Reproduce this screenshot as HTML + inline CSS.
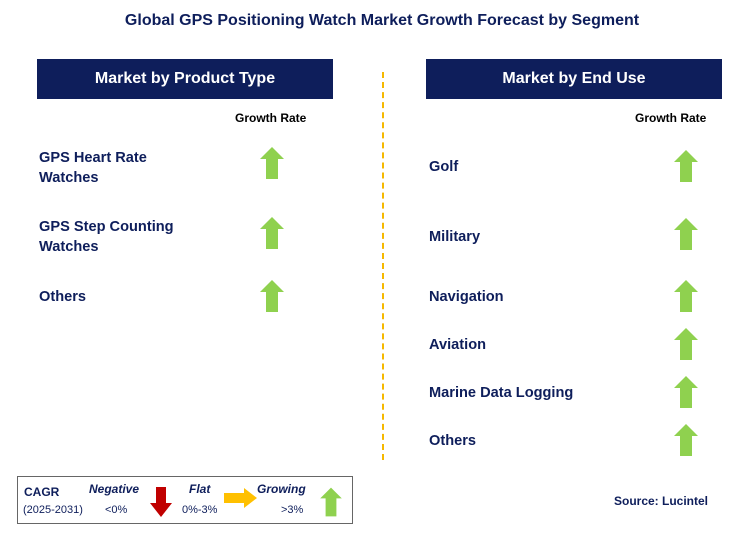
<!DOCTYPE html>
<html><head><meta charset="utf-8"><style>
body{margin:0;width:740px;height:536px;background:#fff;position:relative;font-family:"Liberation Sans",sans-serif;overflow:hidden}
.a{position:absolute}
.t{font-weight:bold;font-size:14.6px;color:#0e1e5b;line-height:20px}
.hd{background:#0e1e5b;color:#fff;font-weight:bold;font-size:16px;text-align:center;line-height:40px;height:40px}
.gr{font-size:12px;font-weight:bold;color:#000}
</style></head><body>
<div class="a" style="left:0;width:764px;top:12px;text-align:center;font-weight:bold;font-size:16px;color:#0e1e5b">Global GPS Positioning Watch Market Growth Forecast by Segment</div>
<div class="a hd" style="left:37px;top:59px;width:296px">Market by Product Type</div>
<div class="a hd" style="left:426px;top:59px;width:296px">Market by End Use</div>
<div class="a gr" style="left:235px;top:111px">Growth Rate</div>
<div class="a gr" style="left:635px;top:111px">Growth Rate</div>
<div class="a" style="left:382px;top:72px;height:388px;border-left:2px dashed #f5b800"></div>
<div class="a t" style="left:39px;top:148px">GPS Heart Rate<br>Watches</div>
<div class="a t" style="left:39px;top:217px">GPS Step Counting<br>Watches</div>
<div class="a t" style="left:39px;top:287px">Others</div>
<div class="a t" style="left:429px;top:157px">Golf</div>
<div class="a t" style="left:429px;top:227px">Military</div>
<div class="a t" style="left:429px;top:287px">Navigation</div>
<div class="a t" style="left:429px;top:335px">Aviation</div>
<div class="a t" style="left:429px;top:383px">Marine Data Logging</div>
<div class="a t" style="left:429px;top:431px">Others</div>
<svg class="a" style="left:0;top:0" width="740" height="536">
<defs><polygon id="up" points="0,-16 12,-4 6,-4 6,16 -6,16 -6,-4 -12,-4" fill="#8fd14f"/></defs>
<use href="#up" x="272" y="163"/>
<use href="#up" x="272" y="233"/>
<use href="#up" x="272" y="296"/>
<use href="#up" x="686" y="166"/>
<use href="#up" x="686" y="234"/>
<use href="#up" x="686" y="296"/>
<use href="#up" x="686" y="344"/>
<use href="#up" x="686" y="392"/>
<use href="#up" x="686" y="440"/>
<rect x="17.5" y="476.5" width="335" height="47" fill="none" stroke="#666" stroke-width="1"/>
<polygon points="156,487 166,487 166,503 172,503 161,517 150,503 156,503" fill="#c00000"/>
<polygon points="224,493 244,493 244,488 257,498 244,508 244,503 224,503" fill="#ffc000"/>
<use href="#up" x="331" y="502" transform="translate(331 502) scale(0.9) translate(-331 -502)"/>
</svg>
<div class="a" style="left:24px;top:485px;font-size:12px;font-weight:bold;color:#0e1e5b">CAGR</div>
<div class="a" style="left:23px;top:504px;font-size:11px;color:#0e1e5b">(2025-2031)</div>
<div class="a" style="left:89px;top:482px;font-size:12px;font-weight:bold;font-style:italic;color:#0e1e5b">Negative</div>
<div class="a" style="left:105px;top:504px;font-size:11px;color:#0e1e5b">&lt;0%</div>
<div class="a" style="left:189px;top:482px;font-size:12px;font-weight:bold;font-style:italic;color:#0e1e5b">Flat</div>
<div class="a" style="left:182px;top:504px;font-size:11px;color:#0e1e5b">0%-3%</div>
<div class="a" style="left:257px;top:482px;font-size:12px;font-weight:bold;font-style:italic;color:#0e1e5b">Growing</div>
<div class="a" style="left:281px;top:504px;font-size:11px;color:#0e1e5b">&gt;3%</div>
<div class="a" style="left:614px;top:494px;font-size:12px;font-weight:bold;color:#0e1e5b">Source: Lucintel</div>
</body></html>
